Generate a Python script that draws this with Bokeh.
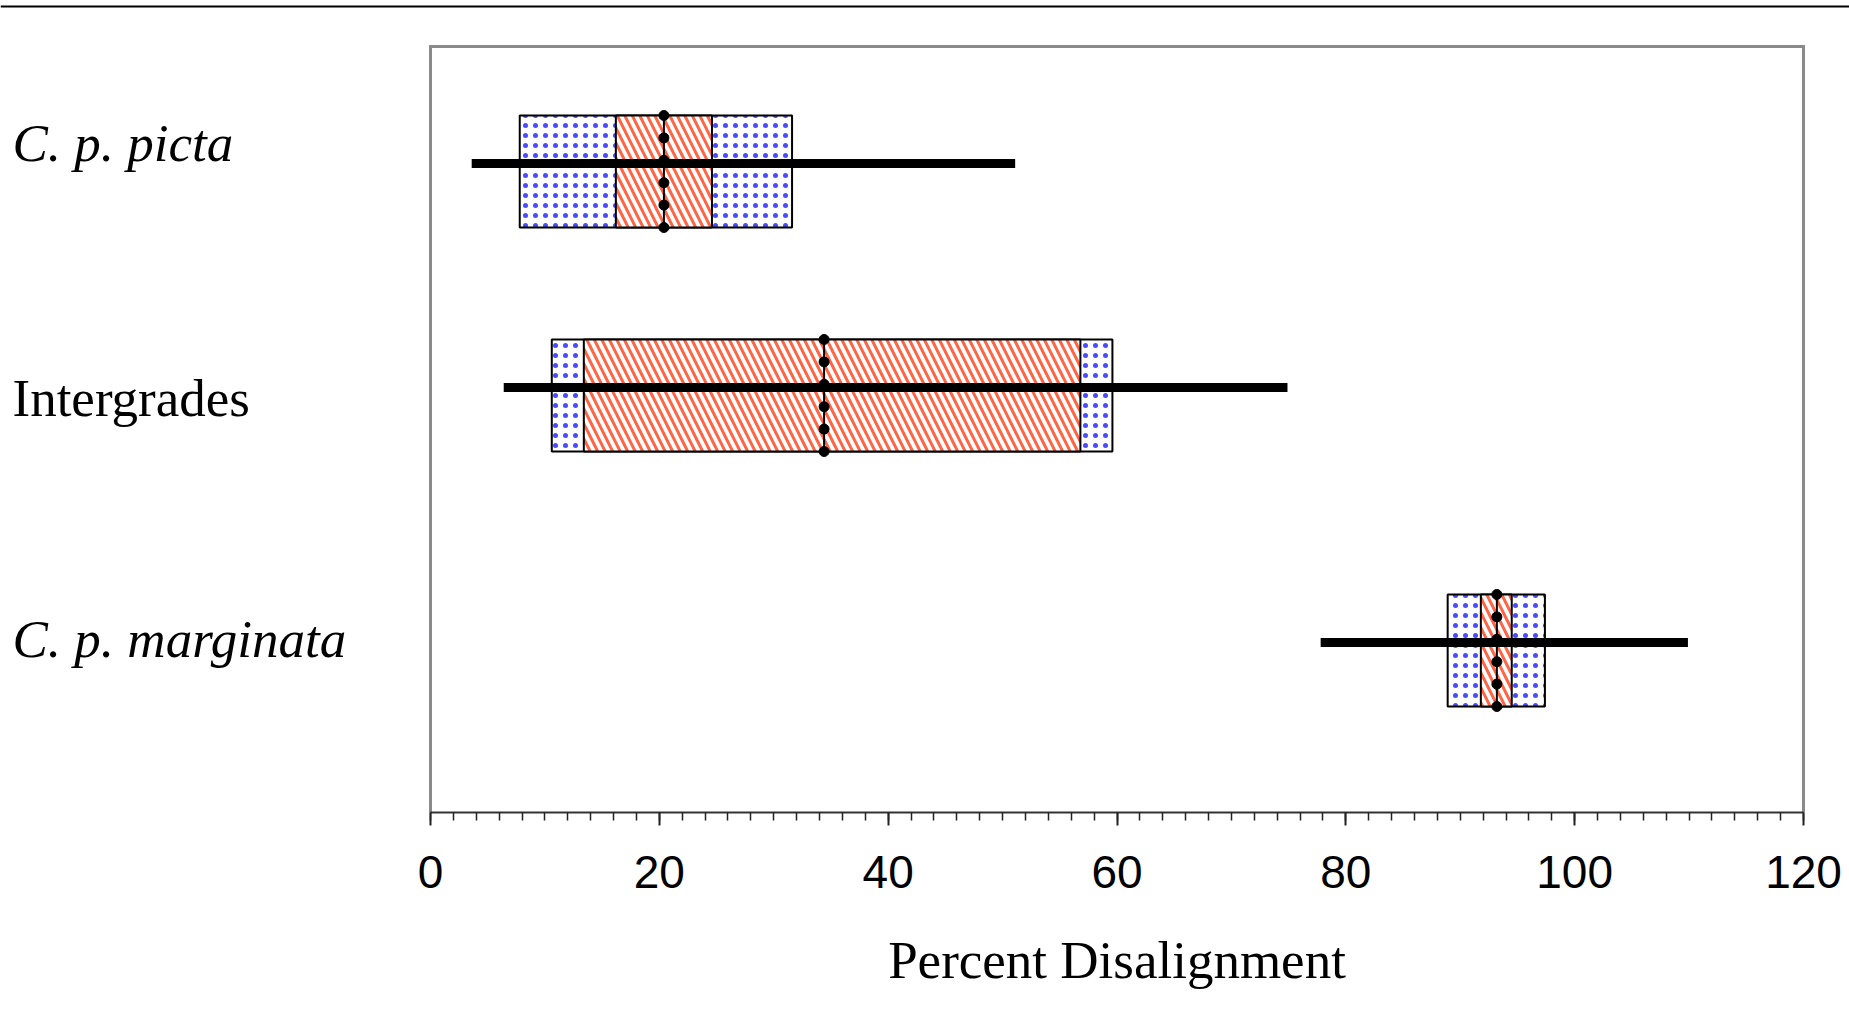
import numpy as np
from bokeh.plotting import figure
from bokeh.models import Range1d, SingleIntervalTicker
from bokeh.core.properties import value
from bokeh.embed import file_html
from bokeh.resources import INLINE

# ---- data (percent disalignment per group) ----
groups = ["C. p. picta", "Intergrades", "C. p. marginata"]
group_italic = [True, False, True]
range_lo = [3.6, 6.4, 77.8]       # thick black bar: range
range_hi = [51.1, 74.9, 109.9]
outer_lo = [7.8, 10.6, 88.9]      # dotted blue box
outer_hi = [31.6, 59.6, 97.4]
inner_lo = [16.2, 13.4, 91.8]     # hatched red box
inner_hi = [24.6, 56.8, 94.5]
center = [20.4, 34.4, 93.2]       # central value (dotted vertical line)
x_min, x_max = 0, 120
x_tick_step = 20
x_minor_per_major = 10
x_title = "Percent Disalignment"

# ---- layout (pixels) ----
W, H = 1849, 1036
BOX_L, BOX_R, BOX_T, AXIS_Y = 430, 1803, 46, 812   # plot box on the canvas
px_per_unit = (BOX_R - BOX_L) / (x_max - x_min)
x_left = x_min - BOX_L / px_per_unit                # canvas left edge in data units
x_right = x_max + (W - BOX_R) / px_per_unit         # canvas right edge in data units
box_top = AXIS_Y - BOX_T                            # y measured up from the axis

row_center = [641, 417, 162]      # box centres
label_base = [670, 415, 174]      # baselines of the group names
half_h = 56                        # half height of each box
bar_offset = 8                     # range bar sits a little above box centre
n_dots = 6
title_base = -147                  # baseline of the x title, below the axis

p = figure(width=W, height=H, output_backend="svg", toolbar_location=None,
           x_range=Range1d(x_left, x_right),
           y_range=Range1d(-(H - AXIS_Y), AXIS_Y),
           y_axis_location=None,
           min_border_left=0, min_border_right=0,
           min_border_top=0, min_border_bottom=0)
p.grid.visible = False
p.background_fill_color = "white"
p.border_fill_color = "white"
p.outline_line_color = None

# rule across the top of the page
p.segment(x0=[x_left], y0=[AXIS_Y - 6], x1=[x_right], y1=[AXIS_Y - 6],
          line_color="black", line_width=2)

# grey plot box (left, top, right); the axis closes it at the bottom
p.line(x=[x_min, x_min, x_max, x_max], y=[0, box_top, box_top, 0],
       line_color="#8a8a8a", line_width=3, line_join="miter")

# boxes
p.hbar(y=row_center, left=outer_lo, right=outer_hi, height=2 * half_h,
       fill_color="white", hatch_pattern=".", hatch_color="#4a4aff",
       hatch_scale=10, hatch_weight=2,
       line_color="black", line_width=2)
p.hbar(y=row_center, left=inner_lo, right=inner_hi, height=2 * half_h,
       fill_color="white", hatch_pattern="\\", hatch_color="#ff6444",
       hatch_scale=15, hatch_weight=3,
       line_color="black", line_width=2)

# range bars
bar_y = [c + bar_offset for c in row_center]
p.segment(x0=range_lo, y0=bar_y, x1=range_hi, y1=bar_y,
          line_color="black", line_width=9, line_cap="butt")

# central value: vertical line with dots
p.segment(x0=center, y0=[c - half_h for c in row_center],
          x1=center, y1=[c + half_h for c in row_center],
          line_color="black", line_width=2)
dot_x, dot_y = [], []
for cx, cy in zip(center, row_center):
    for off in np.linspace(-half_h, half_h, n_dots):
        dot_x.append(cx)
        dot_y.append(cy + off)
p.scatter(dot_x, dot_y, size=10, fill_color="black", line_color="black")

# group names
label_x = x_left + 12 / px_per_unit
for name, it, yb in zip(groups, group_italic, label_base):
    p.text(x=[label_x], y=[yb], text=[name],
           text_font=value("Liberation Serif"), text_font_size="53px",
           text_font_style="italic" if it else "normal",
           text_color="black", text_baseline="alphabetic", text_align="left")

# x title, centred under the plot box
p.text(x=[(x_min + x_max) / 2], y=[title_base], text=[x_title],
       text_font=value("Liberation Serif"), text_font_size="53px",
       text_color="black", text_baseline="alphabetic", text_align="center")

# x axis, pinned to y = 0 inside the full-canvas frame
ax = p.xaxis[0]
ax.fixed_location = 0
ax.bounds = (x_min, x_max)
ax.ticker = SingleIntervalTicker(interval=x_tick_step, num_minor_ticks=x_minor_per_major)
ax.axis_line_color = "#333333"
ax.axis_line_width = 2
ax.major_tick_in = 0
ax.major_tick_out = 13
ax.minor_tick_in = 0
ax.minor_tick_out = 8
ax.major_tick_line_color = "#222222"
ax.major_tick_line_width = 2
ax.minor_tick_line_color = "#222222"
ax.minor_tick_line_width = 1.5
ax.major_label_text_font = "Liberation Sans"
ax.major_label_text_font_size = "46px"
ax.major_label_text_color = "black"
ax.major_label_standoff = 30

open("out.html", "w").write(file_html(p, INLINE))
